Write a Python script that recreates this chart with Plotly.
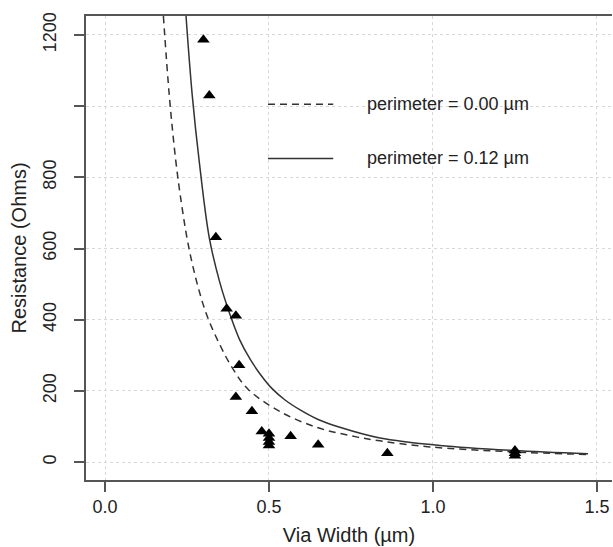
import plotly.graph_objects as go

# Measured data (triangles)
via_width = [0.300, 0.318, 0.338, 0.371, 0.399, 0.409, 0.399, 0.448, 0.478,
             0.500, 0.500, 0.500, 0.500, 0.566, 0.650, 0.861, 1.250, 1.250, 1.250]
resistance = [1186, 1030, 632, 431, 411, 272, 183, 143, 86,
              80, 68, 57, 47, 73, 49, 25, 33, 25, 18]

# Model curve: perimeter = 0.00 um (dashed)
w_p000 = [0.178, 0.196, 0.216, 0.235, 0.254, 0.280, 0.310, 0.350, 0.390, 0.436,
          0.534, 0.645, 0.740, 0.838, 0.991, 1.244, 1.473]
r_p000 = [1253, 1030, 845, 715, 610, 505, 414, 330, 262, 205,
          142, 98, 76, 60, 43, 29, 21.5]

# Model curve: perimeter = 0.12 um (solid)
w_p012 = [0.247, 0.266, 0.288, 0.318, 0.350, 0.381, 0.410, 0.442, 0.475, 0.508,
          0.550, 0.595, 0.650, 0.716, 0.838, 1.021, 1.244, 1.473]
r_p012 = [1253, 1030, 839, 630, 505, 415, 345, 290, 245, 208,
          174, 147, 120, 98, 68, 47, 33, 24]

x_ticks = [0.0, 0.5, 1.0, 1.5]
x_ticktext = ["0.0", "0.5", "1.0", "1.5"]
y_ticks = [0, 200, 400, 600, 800, 1000, 1200]
y_ticktext = ["0", "200", "400", "600", "800", "", "1200"]

legend_labels = ["perimeter = 0.00 \u00b5m", "perimeter = 0.12 \u00b5m"]

FONT = "Liberation Sans, Arial, Helvetica, sans-serif"
TXT = "#222222"
LINEC = "#333333"
FRAME = "#555555"
GRID = "#d8d8d8"

fig = go.Figure()

fig.add_trace(go.Scatter(x=w_p000, y=r_p000, mode="lines", line_shape="spline",
                         line=dict(color=LINEC, width=1.5, dash="7px,5px"),
                         showlegend=False, hoverinfo="skip"))
fig.add_trace(go.Scatter(x=w_p012, y=r_p012, mode="lines", line_shape="spline",
                         line=dict(color=LINEC, width=1.5),
                         showlegend=False, hoverinfo="skip"))
fig.add_trace(go.Scatter(x=via_width, y=resistance, mode="markers",
                         marker=dict(symbol="triangle-up", size=11, color="black",
                                     line=dict(width=0)),
                         showlegend=False))

# legend drawn manually (R-style legend without box)
leg_y = [0.810, 0.693]
leg_dash = ["7px,5px", "solid"]
for yy, dd, lab in zip(leg_y, leg_dash, legend_labels):
    fig.add_shape(type="line", xref="paper", yref="paper",
                  x0=0.346, x1=0.470, y0=yy, y1=yy,
                  line=dict(color=LINEC, width=1.5, dash=dd))
    fig.add_annotation(xref="paper", yref="paper", x=0.530, y=yy,
                       text=lab, showarrow=False, xanchor="left", yanchor="middle",
                       font=dict(family=FONT, size=18, color=TXT))

fig.update_layout(
    width=613, height=547,
    margin=dict(l=86, r=1, t=16, b=67),
    paper_bgcolor="white", plot_bgcolor="white",
    font=dict(family=FONT, size=18, color=TXT),
    showlegend=False,
)

fig.update_xaxes(
    range=[-0.058, 1.546],
    tickvals=x_ticks, ticktext=x_ticktext,
    ticks="outside", ticklen=10, tickwidth=1.5, tickcolor=FRAME,
    showline=True, linecolor=FRAME, linewidth=1.5, mirror=True,
    showgrid=True, gridcolor=GRID, griddash="dot", gridwidth=1,
    zeroline=False,
    title=dict(text="Via Width (\u00b5m)", font=dict(size=20, family=FONT, color=TXT), standoff=12),
    tickfont=dict(size=18, family=FONT, color=TXT),
)
fig.update_yaxes(
    range=[-50, 1253],
    tickvals=y_ticks, ticktext=y_ticktext, tickangle=-90,
    ticks="outside", ticklen=10, tickwidth=1.5, tickcolor=FRAME,
    showline=True, linecolor=FRAME, linewidth=1.5, mirror=False,
    showgrid=True, gridcolor=GRID, griddash="dot", gridwidth=1,
    zeroline=False, ticklabelstandoff=11,
    title=dict(text="Resistance (Ohms)", font=dict(size=20, family=FONT, color=TXT), standoff=8),
    tickfont=dict(size=18, family=FONT, color=TXT),
)

fig.write_html("out.html", config={"displayModeBar": False},
               post_script="document.body.style.margin='0';document.body.style.overflow='hidden';")
